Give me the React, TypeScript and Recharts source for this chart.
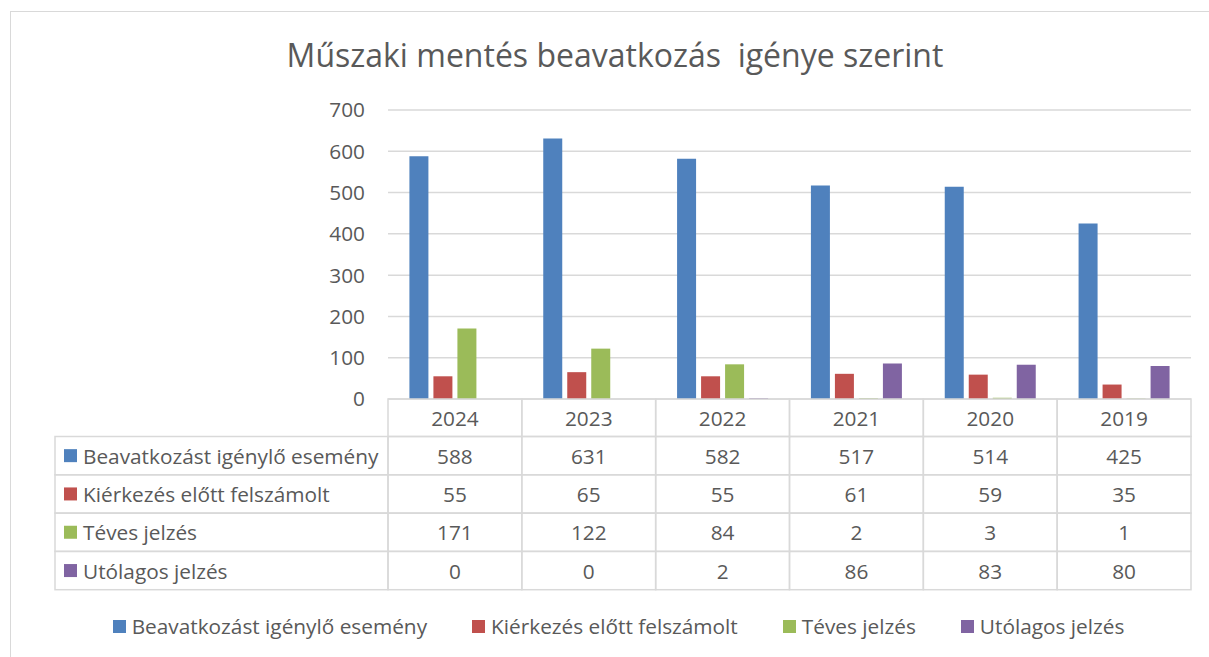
import React from 'react';
import { BarChart, Bar, XAxis, YAxis, CartesianGrid, Legend } from 'recharts';

if (typeof document !== 'undefined') {
  document.body.style.margin = '0';
  document.body.style.overflow = 'hidden';
}

const title = 'Műszaki mentés beavatkozás  igénye szerint';
const years = ['2024', '2023', '2022', '2021', '2020', '2019'];
const seriesNames = [
  'Beavatkozást igénylő esemény',
  'Kiérkezés előtt felszámolt',
  'Téves jelzés',
  'Utólagos jelzés',
];
const beavatkozast = [588, 631, 582, 517, 514, 425];
const kierkezes = [55, 65, 55, 61, 59, 35];
const teves = [171, 122, 84, 2, 3, 1];
const utolagos = [0, 0, 2, 86, 83, 80];
const yTicks = [0, 100, 200, 300, 400, 500, 600, 700];

const seriesValues = [beavatkozast, kierkezes, teves, utolagos];
const seriesKeys = ['s0', 's1', 's2', 's3'];
const colors = ['#4F81BD', '#C0504D', '#9BBB59', '#8064A2'];

const data = years.map((year, i) => {
  const row: Record<string, any> = { year };
  seriesKeys.forEach((k, s) => {
    row[k] = seriesValues[s][i];
  });
  return row;
});

const W = 1209;
const H = 657;
const M_TOP = 110;
const Y_W = 388;
const M_RIGHT = 18;
const X_H = 37;
const M_BOTTOM = 221;
const BW = (W - Y_W - M_RIGHT) / years.length;
const HEADER_H = 37.5;
const ROW_H = 38.3;
const LABEL_W = 333;
const LINE = '#d9d9d9';
const TEXT = '#595959';
const FONT = '"Open Sans", sans-serif';
const FS = 20.8;

const TableTick = (props: any) => {
  const { x, y, payload } = props;
  const idx = years.indexOf(payload.value);
  const left = x - BW / 2;
  return (
    <g>
      <rect x={left} y={y} width={BW} height={HEADER_H} fill="none" stroke={LINE} strokeWidth={1.5} />
      <text x={x} y={y + HEADER_H / 2} textAnchor="middle" dominantBaseline="central" fill={TEXT} fontSize={FS} fontFamily={FONT}>
        {payload.value}
      </text>
      {seriesValues.map((vals, r) => {
        const ry = y + HEADER_H + r * ROW_H;
        return (
          <g key={r}>
            <rect x={left} y={ry} width={BW} height={ROW_H} fill="none" stroke={LINE} strokeWidth={1.5} />
            <text x={x} y={ry + ROW_H / 2} textAnchor="middle" dominantBaseline="central" fill={TEXT} fontSize={FS} fontFamily={FONT}>
              {vals[idx]}
            </text>
          </g>
        );
      })}
      {idx === 0 &&
        seriesNames.map((name, r) => {
          const ry = y + HEADER_H + r * ROW_H;
          const lx = left - LABEL_W;
          return (
            <g key={'l' + r}>
              <rect x={lx} y={ry} width={LABEL_W} height={ROW_H} fill="none" stroke={LINE} strokeWidth={1.5} />
              <rect x={lx + 9} y={ry + ROW_H / 2 - 6.5} width={13} height={13} fill={colors[r]} />
              <text x={lx + 28} y={ry + ROW_H / 2} textAnchor="start" dominantBaseline="central" fill={TEXT} fontSize={FS} fontFamily={FONT}>
                {name}
              </text>
            </g>
          );
        })}
    </g>
  );
};

const LegendContent = () => (
  <div
    style={{
      display: 'flex',
      justifyContent: 'center',
      alignItems: 'center',
      fontFamily: FONT,
      fontSize: FS,
      color: TEXT,
      whiteSpace: 'nowrap',
      paddingLeft: 28,
    }}
  >
    {seriesNames.map((name, i) => (
      <div key={name} style={{ display: 'flex', alignItems: 'center', marginLeft: i === 0 ? 0 : 45 }}>
        <span style={{ display: 'inline-block', width: 13, height: 13, background: colors[i], marginRight: 6 }} />
        <span>{name}</span>
      </div>
    ))}
  </div>
);

export default function App() {
  return (
    <div style={{ position: 'relative', width: W, height: H, background: '#fff', overflow: 'hidden' }}>
      <div
        style={{
          position: 'absolute',
          left: 10,
          top: 11,
          width: W,
          height: H,
          borderLeft: `1.5px solid ${LINE}`,
          borderTop: `1.5px solid ${LINE}`,
        }}
      />
      <div
        style={{
          position: 'absolute',
          left: 0,
          top: 34,
          width: 1230,
          textAlign: 'center',
          fontFamily: FONT,
          fontSize: 32,
          lineHeight: '42px',
          color: TEXT,
          whiteSpace: 'pre',
        }}
      >
        {title}
      </div>
      <div style={{ position: 'absolute', left: 0, top: 0 }}>
        <BarChart
          width={W}
          height={H}
          data={data}
          margin={{ top: M_TOP, right: M_RIGHT, bottom: M_BOTTOM, left: 0 }}
          barCategoryGap="16%"
          barGap={5}
        >
          <CartesianGrid vertical={false} stroke={LINE} strokeWidth={1.5} />
          <XAxis
            dataKey="year"
            height={X_H}
            axisLine={false}
            tickLine={false}
            tickSize={0}
            tickMargin={0}
            interval={0}
            tick={<TableTick />}
          />
          <YAxis
            width={Y_W}
            domain={[0, 700]}
            ticks={yTicks}
            axisLine={false}
            tickLine={false}
            tickSize={0}
            tickMargin={23}
            tick={{ fill: TEXT, fontSize: FS, fontFamily: FONT }}
          />
          {seriesKeys.map((k, i) => (
            <Bar key={k} dataKey={k} name={seriesNames[i]} fill={colors[i]} isAnimationActive={false} />
          ))}
          <Legend
            layout="horizontal"
            verticalAlign="middle"
            align="center"
            content={<LegendContent />}
            wrapperStyle={{ top: 612, left: 0, width: W }}
          />
        </BarChart>
      </div>
    </div>
  );
}
